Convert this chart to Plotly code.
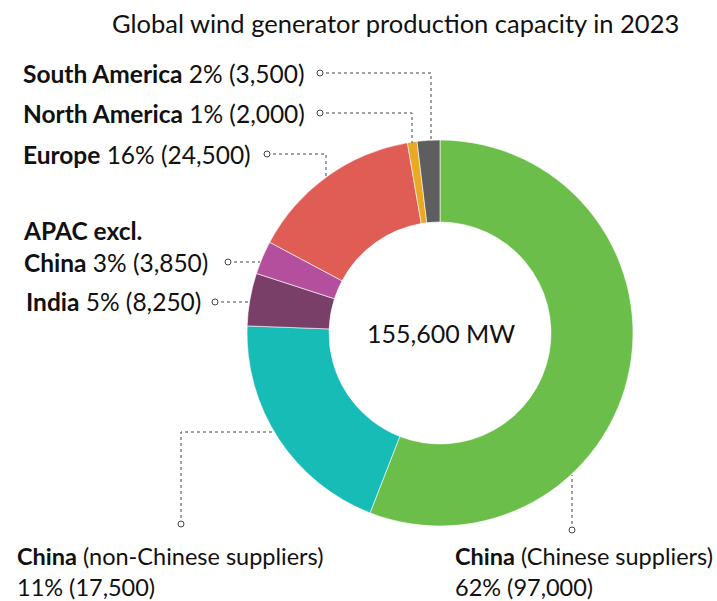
import plotly.graph_objects as go

W, H = 717, 601

# Regions, clockwise from 12 o'clock
regions = ["China (Chinese suppliers)", "China (non-Chinese suppliers)", "India",
           "APAC excl. China", "Europe", "North America", "South America"]
drawn_mw = [86900, 30600, 6850, 4350, 22550, 1250, 2950]
# Values printed in the labels
label_pct = ["62%", "11%", "5%", "3%", "16%", "1%", "2%"]
label_mw = ["97,000", "17,500", "8,250", "3,850", "24,500", "2,000", "3,500"]
colors = ["#6CBE4A", "#17BCB6", "#7A3F69", "#B44F9E", "#E05D56", "#E9A923", "#5E5E60"]
total_text = "155,600 MW"
title_text = "Global wind generator production capacity in 2023"

FONT = "Lato"
TXT = "#111111"
LS = 24.5

def px(x):
    return x / W

def py(y):
    return 1 - y / H

cx, cy, r = 440, 333, 193

fig = go.Figure(go.Pie(
    labels=regions, values=drawn_mw, sort=False, direction="clockwise", rotation=0,
    hole=0.575, marker=dict(colors=colors, line=dict(color="white", width=0.6)),
    textinfo="none", hoverinfo="label+value", showlegend=False,
    domain=dict(x=[px(cx - r), px(cx + r)], y=[py(cy + r), py(cy - r)]),
))

annotations = []

def label(x, y, text, size=LS):
    annotations.append(dict(x=px(x), y=py(y), xref="paper", yref="paper", text=text,
                            showarrow=False, xanchor="left", yanchor="middle", align="left",
                            font=dict(family=FONT, size=size, color=TXT)))

i = {n: k for k, n in enumerate(regions)}
label(21, 73, f"<b>South America</b> {label_pct[i['South America']]} ({label_mw[i['South America']]})")
label(21, 113, f"<b>North America</b> {label_pct[i['North America']]} ({label_mw[i['North America']]})")
label(21, 154, f"<b>Europe</b> {label_pct[i['Europe']]} ({label_mw[i['Europe']]})")
label(21, 246, f"<b>APAC excl.<br>China</b> {label_pct[i['APAC excl. China']]} ({label_mw[i['APAC excl. China']]})")
label(24, 301, f"<b>India</b> {label_pct[i['India']]} ({label_mw[i['India']]})")
label(15, 571, f"<b>China</b> (non-Chinese suppliers)<br>{label_pct[1]} ({label_mw[1]})", 23.5)
label(453, 571, f"<b>China</b> (Chinese suppliers)<br>{label_pct[0]} ({label_mw[0]})", 23.5)

annotations.append(dict(x=px(681), y=py(23), xref="paper", yref="paper", text=title_text,
                        showarrow=False, xanchor="right", yanchor="middle",
                        font=dict(family=FONT, size=25.5, color=TXT)))
annotations.append(dict(x=px(cx + 1), y=py(cy), xref="paper", yref="paper", text=total_text,
                        showarrow=False, xanchor="center", yanchor="middle",
                        font=dict(family=FONT, size=25, color=TXT)))

shapes = []
LC = "#444444"

def leader(points):
    path = "M " + " L ".join(f"{px(x)},{py(y)}" for x, y in points)
    shapes.append(dict(type="path", path=path, xref="paper", yref="paper",
                       line=dict(color=LC, width=1, dash="dot")))
    x0, y0 = points[0]
    rr = 3
    shapes.append(dict(type="circle", xref="paper", yref="paper",
                       x0=px(x0 - rr), x1=px(x0 + rr), y0=py(y0 + rr), y1=py(y0 - rr),
                       line=dict(color=LC, width=1), fillcolor="white"))

leader([(320, 73), (431, 73), (431, 140)])
leader([(320, 113), (412, 113), (412, 143)])
leader([(267, 154), (326, 154), (326, 176)])
leader([(228, 262), (260, 262)])
leader([(215, 302), (248, 302)])
leader([(181, 524), (181, 432), (275, 432)])
leader([(572, 530), (572, 475)])

fig.update_layout(width=W, height=H, margin=dict(l=0, r=0, t=0, b=0),
                  paper_bgcolor="white", plot_bgcolor="white",
                  annotations=annotations, shapes=shapes)

fig.write_html("out.html", config={"displayModeBar": False},
               post_script="document.body.style.margin='0';document.body.style.overflow='hidden';")
